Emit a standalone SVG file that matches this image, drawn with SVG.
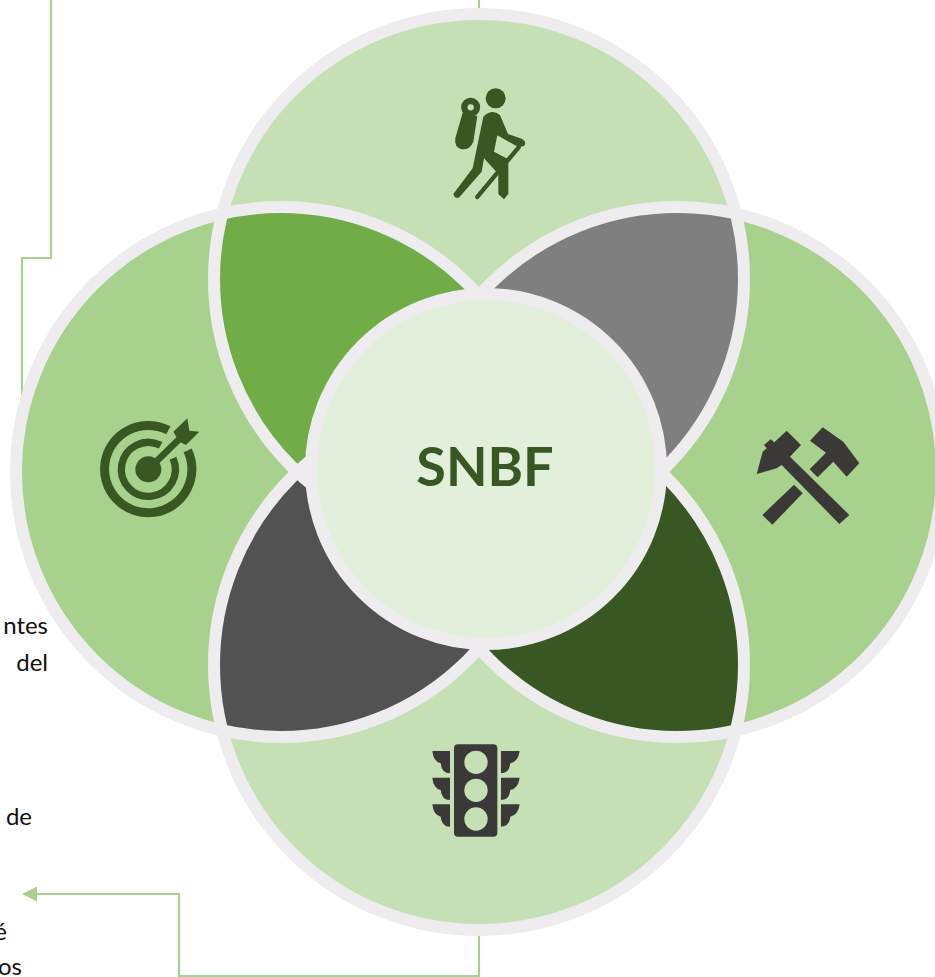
<svg xmlns="http://www.w3.org/2000/svg" width="935" height="977" viewBox="0 0 935 977">
<style>
.ln{fill:none;stroke:#A9D18E;stroke-width:2.2}
.ring{stroke:#EEECEE;stroke-width:12}
.o{fill:none;stroke:#EEECEE;stroke-width:12}
.dk{fill:#385723}
.gy{fill:#3B3838}
.t{font-family:"Lato","Carlito","Liberation Sans",sans-serif;font-size:24px;fill:#111}
</style>
<defs><marker id="ah" markerUnits="userSpaceOnUse" markerWidth="16" markerHeight="16" refX="1" refY="8" orient="auto-start-reverse"><path d="M0,8 L15,1 L15,15 Z" fill="#A9D18E"/></marker></defs>
<rect width="935" height="977" fill="#fff"/>
<g id="texts">
<text class="t" x="48" y="634" text-anchor="end">ntes</text>
<text class="t" x="48" y="671" text-anchor="end">del</text>
<text class="t" x="32" y="825" text-anchor="end">de</text>
<text class="t" x="7" y="940" text-anchor="end">é</text>
<text class="t" x="22" y="975" text-anchor="end">os</text>
</g>
<g id="connectors">
<path class="ln" d="M479,0V14"/>
<path class="ln" d="M51,0V258H22V470"/>
<path class="ln" d="M479,930V976H179V894H37" />
<path d="M22,894 L37,886.500 L37,901.500 Z" fill="#A9D18E"/>
</g>
<g id="node-top"><circle cx="479" cy="279" r="265" fill="#C5E0B4"/></g>
<g id="node-bottom"><circle cx="479" cy="665" r="265" fill="#C5E0B4"/></g>
<g id="node-left"><circle cx="281" cy="472" r="265" fill="#A9D18E"/></g>
<g id="node-right"><circle cx="677" cy="472" r="265" fill="#A9D18E"/></g>
<g id="lens-top-left"><path d="M222.300,213.700A265,265 0 0 1 537.700,537.300A265,265 0 0 1 222.300,213.700Z" fill="#70AD47"/></g>
<g id="lens-top-right"><path d="M735.700,213.700A265,265 0 0 1 420.300,537.300A265,265 0 0 1 735.700,213.700Z" fill="#7F7F7F"/></g>
<g id="lens-bottom-left"><path d="M222.300,730.300A265,265 0 0 1 537.700,406.700A265,265 0 0 1 222.300,730.300Z" fill="#525252"/></g>
<g id="lens-bottom-right"><path d="M735.700,730.300A265,265 0 0 1 420.300,406.700A265,265 0 0 1 735.700,730.300Z" fill="#385723"/></g>
<g id="rings">
<circle class="o" cx="479" cy="279" r="265"/>
<circle class="o" cx="479" cy="665" r="265"/>
<circle class="o" cx="281" cy="472" r="265"/>
<circle class="o" cx="677" cy="472" r="265"/>
</g>
<g id="node-center">
<circle cx="486" cy="469" r="175" fill="#E2EFDA" stroke="#EEECEE" stroke-width="12"/>
<text x="485" y="486" text-anchor="middle" font-family="Lato,Carlito,'Liberation Sans',sans-serif" font-weight="700" font-size="54" fill="#385723">SNBF</text>
</g>
<g id="icon-hiker" transform="translate(420,70) scale(.3333)">
<circle class="dk" cx="227" cy="85" r="30"/>
<circle cx="152" cy="112" r="19" fill="none" stroke="#385723" stroke-width="19"/>
<path class="dk" d="M128,128L172,138L160,215Q150,240 125,238Q102,232 106,205Z"/>
<path class="dk" d="M190,140Q215,115 240,135L264,192L305,206Q322,215 312,228L296,232L232,196L222,245L265,268V372L252,388L235,372V312L192,265L185,305L118,382Q105,388 100,372L158,295Z"/>
<path d="M296,232L172,381" fill="none" stroke="#385723" stroke-width="13" stroke-linecap="round"/>
</g>
<g id="icon-target" transform="translate(80,400) scale(.3333)">
<circle class="dk" cx="205" cy="208" r="39"/>
<path d="M323,151A131,131 0 1 1 265,91" fill="none" stroke="#385723" stroke-width="27"/>
<path d="M279,175A81,81 0 1 1 242,136" fill="none" stroke="#385723" stroke-width="22"/>
<path d="M205,208L300,115" fill="none" stroke="#385723" stroke-width="20"/>
<path class="dk" d="M280,95L322,55L328,92L358,95L318,135L298,125Z"/>
</g>
<g id="icon-hammers" class="gy" transform="translate(740,410) scale(.3333)">
<path d="M140,62L183,105L150,140L328,315L298,342L125,165L110,175L50,192L68,125L80,115L72,105L92,88L103,97Z"/>
<path d="M162,224L188,250L97,344L67,315Z"/>
<path d="M248,52L310,95L358,160L320,200L280,155L233,202L209,178L258,128L210,92Z"/>
</g>
<g id="icon-traffic" class="gy" transform="translate(420,730) scale(.3333)">
<rect x="102" y="43" width="130" height="277" rx="12"/>
<circle cx="168" cy="97" r="35" fill="#C5E0B4"/>
<circle cx="168" cy="181" r="35" fill="#C5E0B4"/>
<circle cx="168" cy="267" r="35" fill="#C5E0B4"/>
<path id="w" d="M37,63H90V130Q65,130 62,100Q40,95 37,63Z"/>
<path d="M37,143H90V210Q65,210 62,180Q40,175 37,143Z"/>
<path d="M37,223H90V290Q65,290 62,260Q40,255 37,223Z"/>
<path d="M299,63H243V130Q268,130 271,100Q295,95 299,63Z"/>
<path d="M299,143H243V210Q268,210 271,180Q295,175 299,143Z"/>
<path d="M299,223H243V290Q268,290 271,260Q295,255 299,223Z"/>
</g>
</svg>
